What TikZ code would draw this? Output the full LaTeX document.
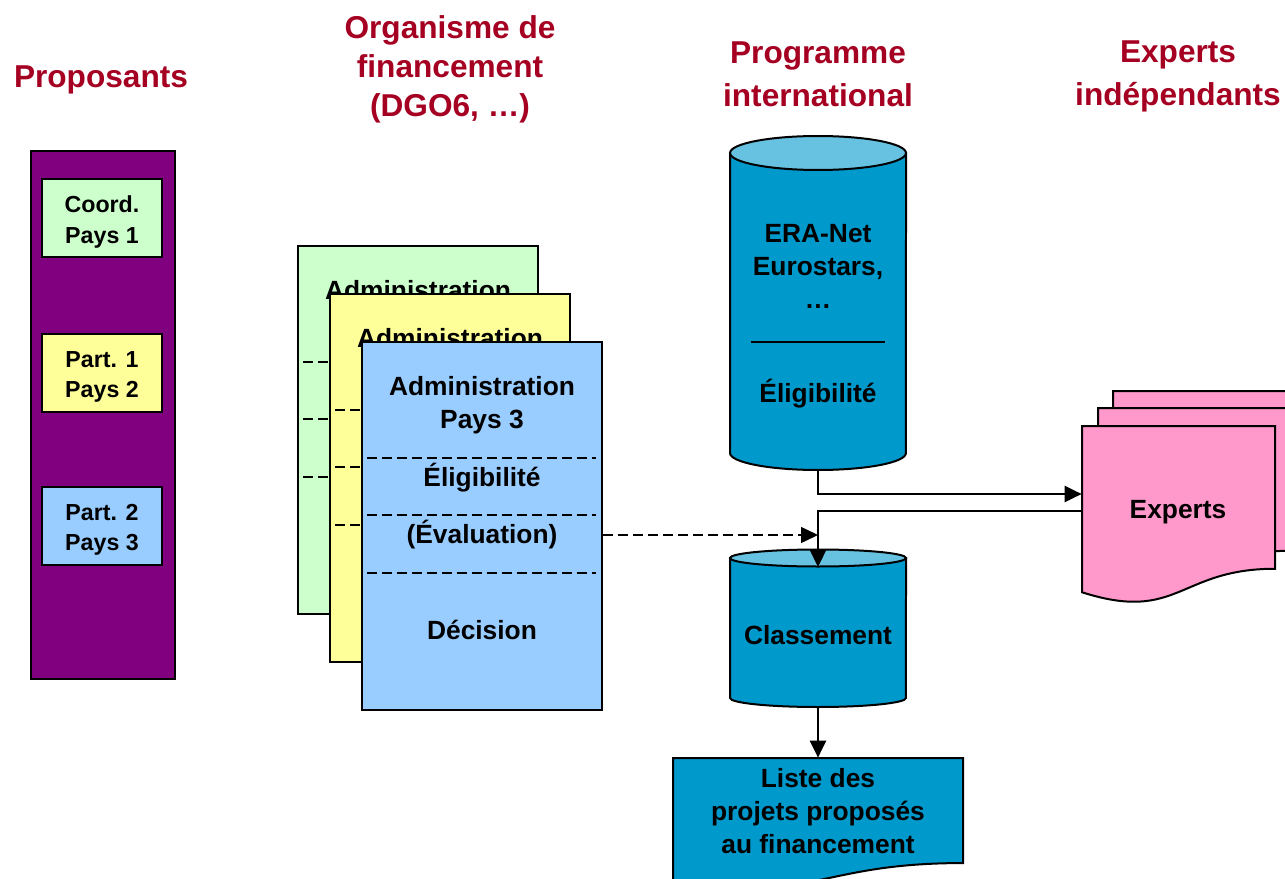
\documentclass[tikz,border=0pt]{standalone}
\usepackage{fontspec}
\setmainfont{Liberation Sans}
\usetikzlibrary{arrows.meta,fit}

\definecolor{titred}{RGB}{165,0,33}
\definecolor{propviolet}{RGB}{128,0,128}
\definecolor{admgreen}{RGB}{204,255,204}
\definecolor{admyellow}{RGB}{255,255,153}
\definecolor{admblue}{RGB}{153,204,255}
\definecolor{cylblue}{RGB}{0,153,204}
\definecolor{cyltop}{RGB}{102,194,224}
\definecolor{exppink}{RGB}{255,153,204}

% document shape: left, top, width, height, fill
\newcommand{\docshape}[5]{%
  \filldraw[fill=#5,line width=0.04cm] (#1,#2) -- ({#1+#3},#2) -- ({#1+#3},{#2+0.802*#4})
    .. controls ({#1+0.5*#3},{#2+0.802*#4}) and ({#1+0.5*#3},{#2+1.1075*#4}) .. (#1,{#2+0.934*#4}) -- cycle;}

\begin{document}
\begin{tikzpicture}[x=0.02cm,y=-0.02cm]
\tikzstyle{hdr}=[text=titred,font=\fontsize{18}{24.4}\selectfont\bfseries,align=center]
\tikzstyle{txt}=[font=\fontsize{15}{18.8}\selectfont\bfseries,align=center,inner sep=0]
\tikzstyle{pbox}=[draw,line width=0.04cm,minimum width=2.42cm,minimum height=1.56cm,inner sep=0]
\tikzstyle{ptxt}=[font=\fontsize{13.2}{17.2}\selectfont\bfseries,align=center,inner sep=0]
\tikzstyle{abox}=[draw,line width=0.04cm,minimum width=4.8cm,minimum height=7.36cm,inner sep=0]
\tikzstyle{dsh}=[line width=0.03cm,dash pattern=on 0.2cm off 0.1cm]
\tikzstyle{arr}=[line width=0.045cm,-{Triangle[length=0.34cm,width=0.32cm]}]
\useasboundingbox (0,0) rectangle (1285,879);
\clip (0,0) rectangle (1285,879);

% titres
\node[hdr] (hprop) at (101,80) {Proposants};
\node[hdr,font=\fontsize{18}{22.2}\selectfont\bfseries] (horg) at (450,69) {Organisme de\\financement\\(DGO6, …)};
\node[hdr] (hprog) at (818,74) {Programme\\international};
\node[hdr] (hexp) at (1178,76) {Experts\\indépendants};

% proposants
\node[fit={(31,151) (175,679)},inner sep=0,draw,fill=propviolet,line width=0.04cm] (prop) {};
\node[pbox,fill=admgreen] (coord) at (102,218) {};
\node[pbox,fill=admyellow] (part1) at (102,373) {};
\node[pbox,fill=admblue] (part2) at (102,526) {};
\node[ptxt] (coordtxt) at (102,222) {Coord.\\Pays 1};
\node[ptxt] (part1txt) at (102,377) {Part. 1\\Pays 2};
\node[ptxt] (part2txt) at (102,530) {Part. 2\\Pays 3};

% administrations
\foreach \i/\c/\dx/\dy in {1/admgreen/0/0,2/admyellow/32/48,3/admblue/64/96}{
  \node[abox,fill=\c] (adm\i) at ({418+\dx},{430+\dy}) {};
  \node[txt] (nom\i) at ({418+\dx},{309.5+\dy}) {Administration\\Pays \i};
  \foreach \h in {116,173,231}
    \draw[dsh] ({303+\dx},{246+\dy+\h}) -- ({532+\dx},{246+\dy+\h});
  \node[txt] (eli\i) at ({418+\dx},{382+\dy}) {Éligibilité};
  \node[txt] (ev\i) at ({418+\dx},{439+\dy}) {(Évaluation)};
  \node[txt] (dec\i) at ({418+\dx},{534+\dy}) {Décision};
}

% programme international
\node[fit={(730,136) (906,470)},inner sep=0] (era) {};
\filldraw[fill=cylblue,line width=0.04cm] (730,153) -- (730,453) arc[start angle=180,end angle=360,x radius=1.76cm,y radius=0.34cm] -- (906,153) -- cycle;
\filldraw[fill=cyltop,line width=0.04cm] (818,153) ellipse[x radius=1.76cm,y radius=0.34cm];
\node[txt] (eratxt) at (818,266) {ERA-Net\\Eurostars,\\…};
\draw[line width=0.03cm] (751,342) -- (885,342);
\node[txt] (eraeli) at (818,394) {Éligibilité};

\node[fit={(730,550) (906,707)},inner sep=0] (cls) {};
\filldraw[fill=cylblue,line width=0.04cm] (730,558) -- (730,698) arc[start angle=180,end angle=360,x radius=1.76cm,y radius=0.18cm] -- (906,558) -- cycle;
\filldraw[fill=cyltop,line width=0.04cm] (818,558) ellipse[x radius=1.76cm,y radius=0.17cm];
\node[txt] (clstxt) at (818,635) {Classement};
\coordinate (clstop) at (818,567);

% experts
\docshape{1113}{391}{193}{178}{exppink}
\docshape{1098}{408}{193}{178}{exppink}
\docshape{1082}{426}{193}{178}{exppink}
\node[fit={(1082,426) (1275,592)},inner sep=0] (exp) {};
\node[txt] (exptxt) at (1178,512) {Experts};

% liste
\docshape{673}{758}{290}{131}{cylblue}
\node[fit={(673,758) (963,863)},inner sep=0] (lst) {};
\node[txt] (lsttxt) at (818,811) {Liste des\\projets proposés\\au financement};

% fleches
\draw[arr] (era.south) |- ([yshift=0.3cm]exp.west);
\draw[arr] ([yshift=-0.04cm]exp.west) -| (clstop);
\draw[arr,dsh] (adm3.east |- ev3) -- (ev3 -| clstop);
\draw[arr] (cls.south) -- (lst.north);
\end{tikzpicture}
\end{document}
